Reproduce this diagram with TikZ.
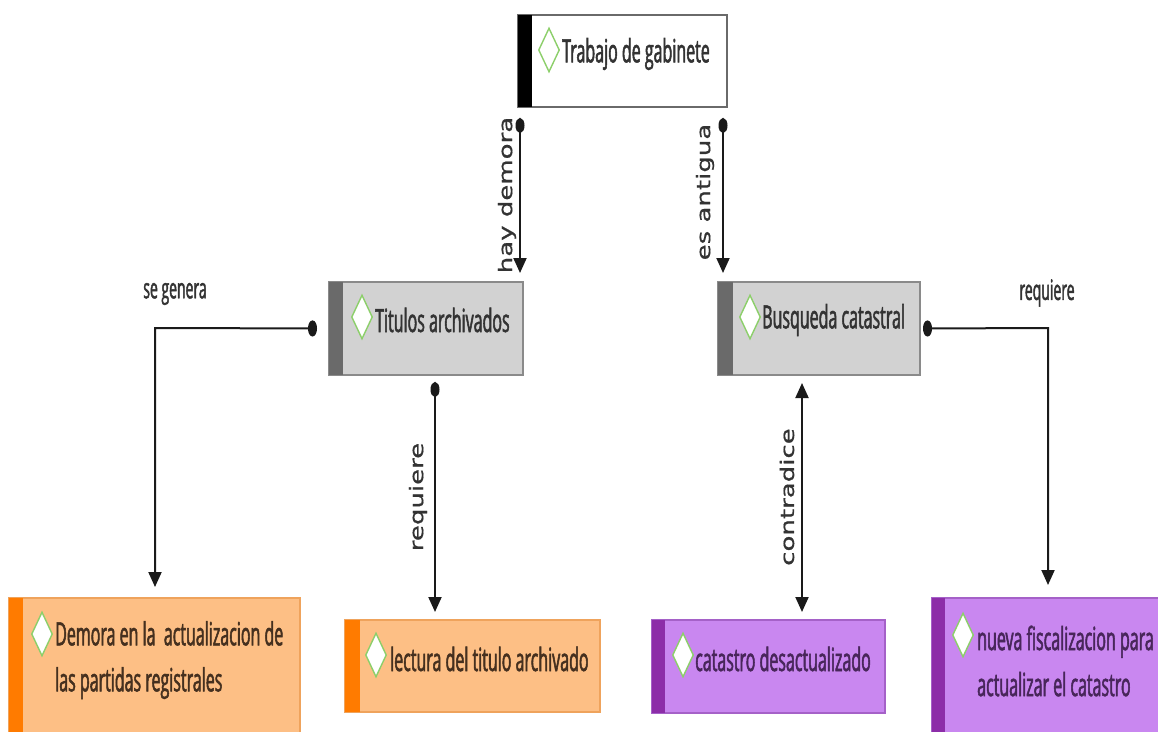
\documentclass[tikz,border=0pt]{standalone}
\usepackage{fontspec}
\setmainfont{Open Sans}
\newfontfamily\condf[FakeStretch=0.5,FakeBold=1.6]{Open Sans}
\newfontfamily\lblf[FakeBold=0.6]{DejaVu Sans}
\usetikzlibrary{arrows.meta,shapes.geometric,calc}
\definecolor{gfill}{HTML}{D2D2D2}
\definecolor{gbar}{HTML}{6A6A6A}
\definecolor{gborder}{HTML}{8A8A8A}
\definecolor{ofill}{HTML}{FDBF85}
\definecolor{obar}{HTML}{FF7B00}
\definecolor{oborder}{HTML}{EFA35C}
\definecolor{pfill}{HTML}{C987F0}
\definecolor{pbar}{HTML}{8C2DA8}
\definecolor{pborder}{HTML}{A561C8}
\definecolor{dgreen}{HTML}{8CCF6A}
\definecolor{gtext}{HTML}{333333}
\definecolor{otext}{HTML}{45301F}
\definecolor{ptext}{HTML}{48265A}
\definecolor{linec}{HTML}{1A1A1A}
\begin{document}
\begin{tikzpicture}[x=1pt,y=-1pt,
  box/.style={draw, line width=1.2pt, anchor=north west, inner sep=0pt, outer sep=0pt},
  whitebox/.style={box, fill=white, draw=gbar},
  graybox/.style={box, fill=gfill, draw=gborder},
  orangebox/.style={box, fill=ofill, draw=oborder},
  purplebox/.style={box, fill=pfill, draw=pborder},
  dia/.style={diamond, draw=dgreen, fill=white, line width=1.4pt, minimum width=21pt, minimum height=44pt, inner sep=0pt},
  txt/.style={anchor=west, inner sep=0pt, align=left, font=\condf\fontsize{32}{46}\selectfont},
  conn/.style={draw=linec, line width=2pt},
  hlbl/.style={inner sep=0pt, text=gtext, font=\condf\fontsize{28}{30}\selectfont},
  vlbl/.style={inner sep=0pt, rotate=90, text=gtext, font=\lblf\fontsize{26}{30}\selectfont}
]
\useasboundingbox (0,0) rectangle (1158,731);

% boxes
\node[whitebox, minimum width=209pt, minimum height=92pt] (tg) at (518,15) {};
\fill[black] (tg.north west) rectangle ($(tg.south west)+(14,0)$);
\node[graybox, minimum width=194pt, minimum height=93pt] (ta) at (329,282) {};
\fill[gbar] (ta.north west) rectangle ($(ta.south west)+(14,0)$);
\node[graybox, minimum width=202pt, minimum height=93pt] (tb) at (718,282) {};
\fill[gbar] (tb.north west) rectangle ($(tb.south west)+(15,0)$);
\node[orangebox, minimum width=291pt, minimum height=140pt] (td) at (9,598) {};
\fill[obar] (td.north west) rectangle ($(td.south west)+(14,0)$);
\node[orangebox, minimum width=255pt, minimum height=92pt] (tl) at (345,620) {};
\fill[obar] (tl.north west) rectangle ($(tl.south west)+(15,0)$);
\node[purplebox, minimum width=233pt, minimum height=93pt] (tc) at (652,620) {};
\fill[pbar] (tc.north west) rectangle ($(tc.south west)+(13,0)$);
\node[purplebox, minimum width=240pt, minimum height=140pt] (tn) at (932,598) {};
\fill[pbar] (tn.north west) rectangle ($(tn.south west)+(13,0)$);

% diamonds
\node[dia] (dg) at (549,50) {};
\node[dia] (da) at (362,317) {};
\node[dia] (db) at (750,317) {};
\node[dia] (dd) at (42,634) {};
\node[dia] (dl) at (376,655) {};
\node[dia] (dc) at (683,655) {};
\node[dia] (dn) at (963,635) {};

% texts
\node[txt, text=gtext] (xg) at (562,54) {Trabajo de gabinete};
\node[txt, text=gtext] (xa) at (375,320) {Titulos archivados};
\node[txt, text=gtext] (xb) at (762,320) {Busqueda catastral};
\node[txt, text=otext] (xd) at (55,660) {Demora en la\ \ actualizacion de\\las partidas registrales};
\node[txt, text=otext] (xl) at (390,659) {lectura del titulo archivado};
\node[txt, text=ptext] (xc) at (695,659) {catastro desactualizado};
\node[txt, text=ptext] (xn) at (977,661) {nueva fiscalizacion para\\actualizar el catastro};

% connector coordinates
\coordinate (hx) at (520,0);
\coordinate (ex) at (723,0);
\coordinate (rx) at (435,0);
\coordinate (cx) at (802,0);
\coordinate (sg) at (155,328);
\coordinate (rq) at (1048,328);

% connectors
\draw[conn, {Circle[length=15pt,width=9pt]}-{Triangle[length=15pt,width=13pt]}, shorten <=11pt, shorten >=9pt]
  (tg.south -| hx) -- (ta.north -| hx);
\draw[conn, {Circle[length=15pt,width=9pt]}-{Triangle[length=15pt,width=13pt]}, shorten <=11pt, shorten >=9pt]
  (tg.south -| ex) -- (tb.north -| ex);
\draw[conn, {Circle[length=9pt,width=16pt]}-{Triangle[length=15pt,width=13pt]}, shorten <=12pt, shorten >=11pt]
  (ta.west) -- (sg) -- (sg |- td.north);
\draw[conn, {Circle[length=15pt,width=9pt]}-{Triangle[length=15pt,width=13pt]}, shorten <=7pt, shorten >=8pt]
  (ta.south -| rx) -- (tl.north -| rx);
\draw[conn, {Triangle[length=15pt,width=13pt]}-{Triangle[length=15pt,width=13pt]}, shorten <=8pt, shorten >=8pt]
  (tb.south -| cx) -- (tc.north -| cx);
\draw[conn, {Circle[length=9pt,width=16pt]}-{Triangle[length=15pt,width=13pt]}, shorten <=3pt, shorten >=13pt]
  (tb.east) -- (rq) -- (rq |- tn.north);

% connector labels
\node[vlbl] (lhd) at (507,195) {\scalebox{1}[0.72]{hay demora}};
\node[vlbl] (lea) at (705,192) {\scalebox{1}[0.72]{es antigua}};
\node[vlbl] (lrq) at (418,497) {\scalebox{1}[0.72]{requiere}};
\node[vlbl] (lco) at (787,497) {\scalebox{1}[0.72]{contradice}};
\node[hlbl] (lsg) at (175,294) {se genera};
\node[hlbl] (lrr) at (1047,293) {requiere};
\end{tikzpicture}
\end{document}
